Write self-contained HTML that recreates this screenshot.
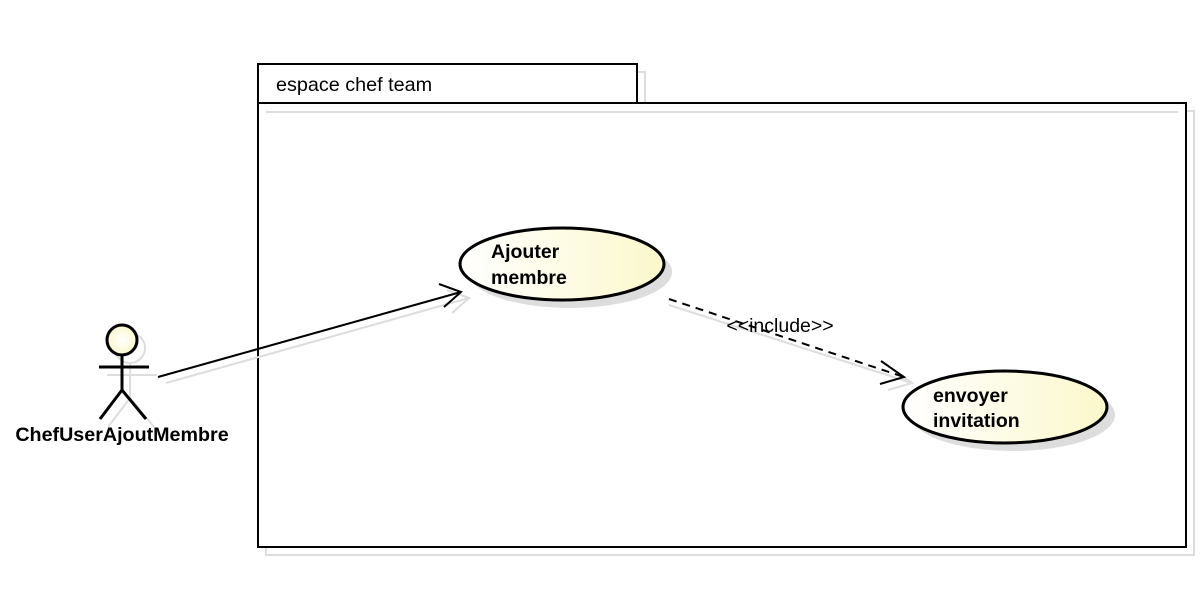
<!DOCTYPE html>
<html><head><style>body{margin:0;background:#fff}svg{display:block}</style></head><body>
<svg width="1202" height="602" xmlns="http://www.w3.org/2000/svg" font-family="Liberation Sans, sans-serif">
<defs>
<linearGradient id="g" x1="0" y1="0" x2="1" y2="0"><stop offset="0" stop-color="#ffffff"/><stop offset="1" stop-color="#fbf8cc"/></linearGradient>
<radialGradient id="h"><stop offset="0" stop-color="#ffffff"/><stop offset="1" stop-color="#fbf8cc"/></radialGradient>
</defs>
<rect x="266" y="72" width="379" height="39" fill="none" stroke="#ddd" stroke-width="2"/>
<rect x="266" y="111" width="928" height="444" fill="none" stroke="#ddd" stroke-width="2"/>
<rect x="258" y="64" width="379" height="39" fill="#fff" stroke="#000" stroke-width="2"/>
<rect x="258" y="103" width="928" height="444" fill="#fff" stroke="#000" stroke-width="2"/>
<rect x="266" y="111" width="912" height="2" fill="#ddd"/>
<text x="276" y="91" font-size="19.8">espace chef team</text>
<ellipse cx="570" cy="272" rx="102" ry="36" fill="#ddd"/>
<ellipse cx="562" cy="264" rx="102" ry="36" fill="url(#g)" stroke="#000" stroke-width="3"/>
<text x="491" y="258" font-size="19.5" font-weight="bold">Ajouter</text>
<text x="491" y="284" font-size="19.5" font-weight="bold">membre</text>
<ellipse cx="1013" cy="415" rx="102" ry="36" fill="#ddd"/>
<ellipse cx="1005" cy="407" rx="102" ry="36" fill="url(#g)" stroke="#000" stroke-width="3"/>
<text x="933" y="402" font-size="19.5" font-weight="bold">envoyer</text>
<text x="933" y="427" font-size="19.5" font-weight="bold">invitation</text>
<g stroke="#ddd" stroke-width="2" fill="none">
<line x1="166" y1="383" x2="469" y2="298"/>
<polyline points="447,290 469,298 452,313"/>
<line x1="669" y1="305" x2="912" y2="383"/>
<polyline points="889,367 912,383 888,390"/>
<circle cx="130" cy="348" r="15"/>
<line x1="107" y1="375" x2="157" y2="375"/>
<line x1="130" y1="363" x2="130" y2="398"/>
<polyline points="108,427 130,398 154,427"/>
</g>
<line x1="158" y1="377" x2="461" y2="292" stroke="#000" stroke-width="2"/>
<polyline points="439,284 461,292 444,307" fill="none" stroke="#000" stroke-width="2"/>
<line x1="669" y1="299" x2="904" y2="377" stroke="#000" stroke-width="2" stroke-dasharray="8,6"/>
<polyline points="881,361 904,377 880,384" fill="none" stroke="#000" stroke-width="2"/>
<text x="780" y="332" font-size="19.5" text-anchor="middle">&lt;&lt;include&gt;&gt;</text>
<circle cx="122" cy="340" r="15" fill="url(#h)" stroke="#000" stroke-width="3"/>
<g stroke="#000" stroke-width="3" fill="none">
<line x1="99" y1="367" x2="149" y2="367"/>
<line x1="122" y1="355" x2="122" y2="390"/>
<polyline points="100,419 122,390 146,419"/>
</g>
<text x="122" y="441" font-size="19.7" font-weight="bold" text-anchor="middle">ChefUserAjoutMembre</text>
</svg>
</body></html>
